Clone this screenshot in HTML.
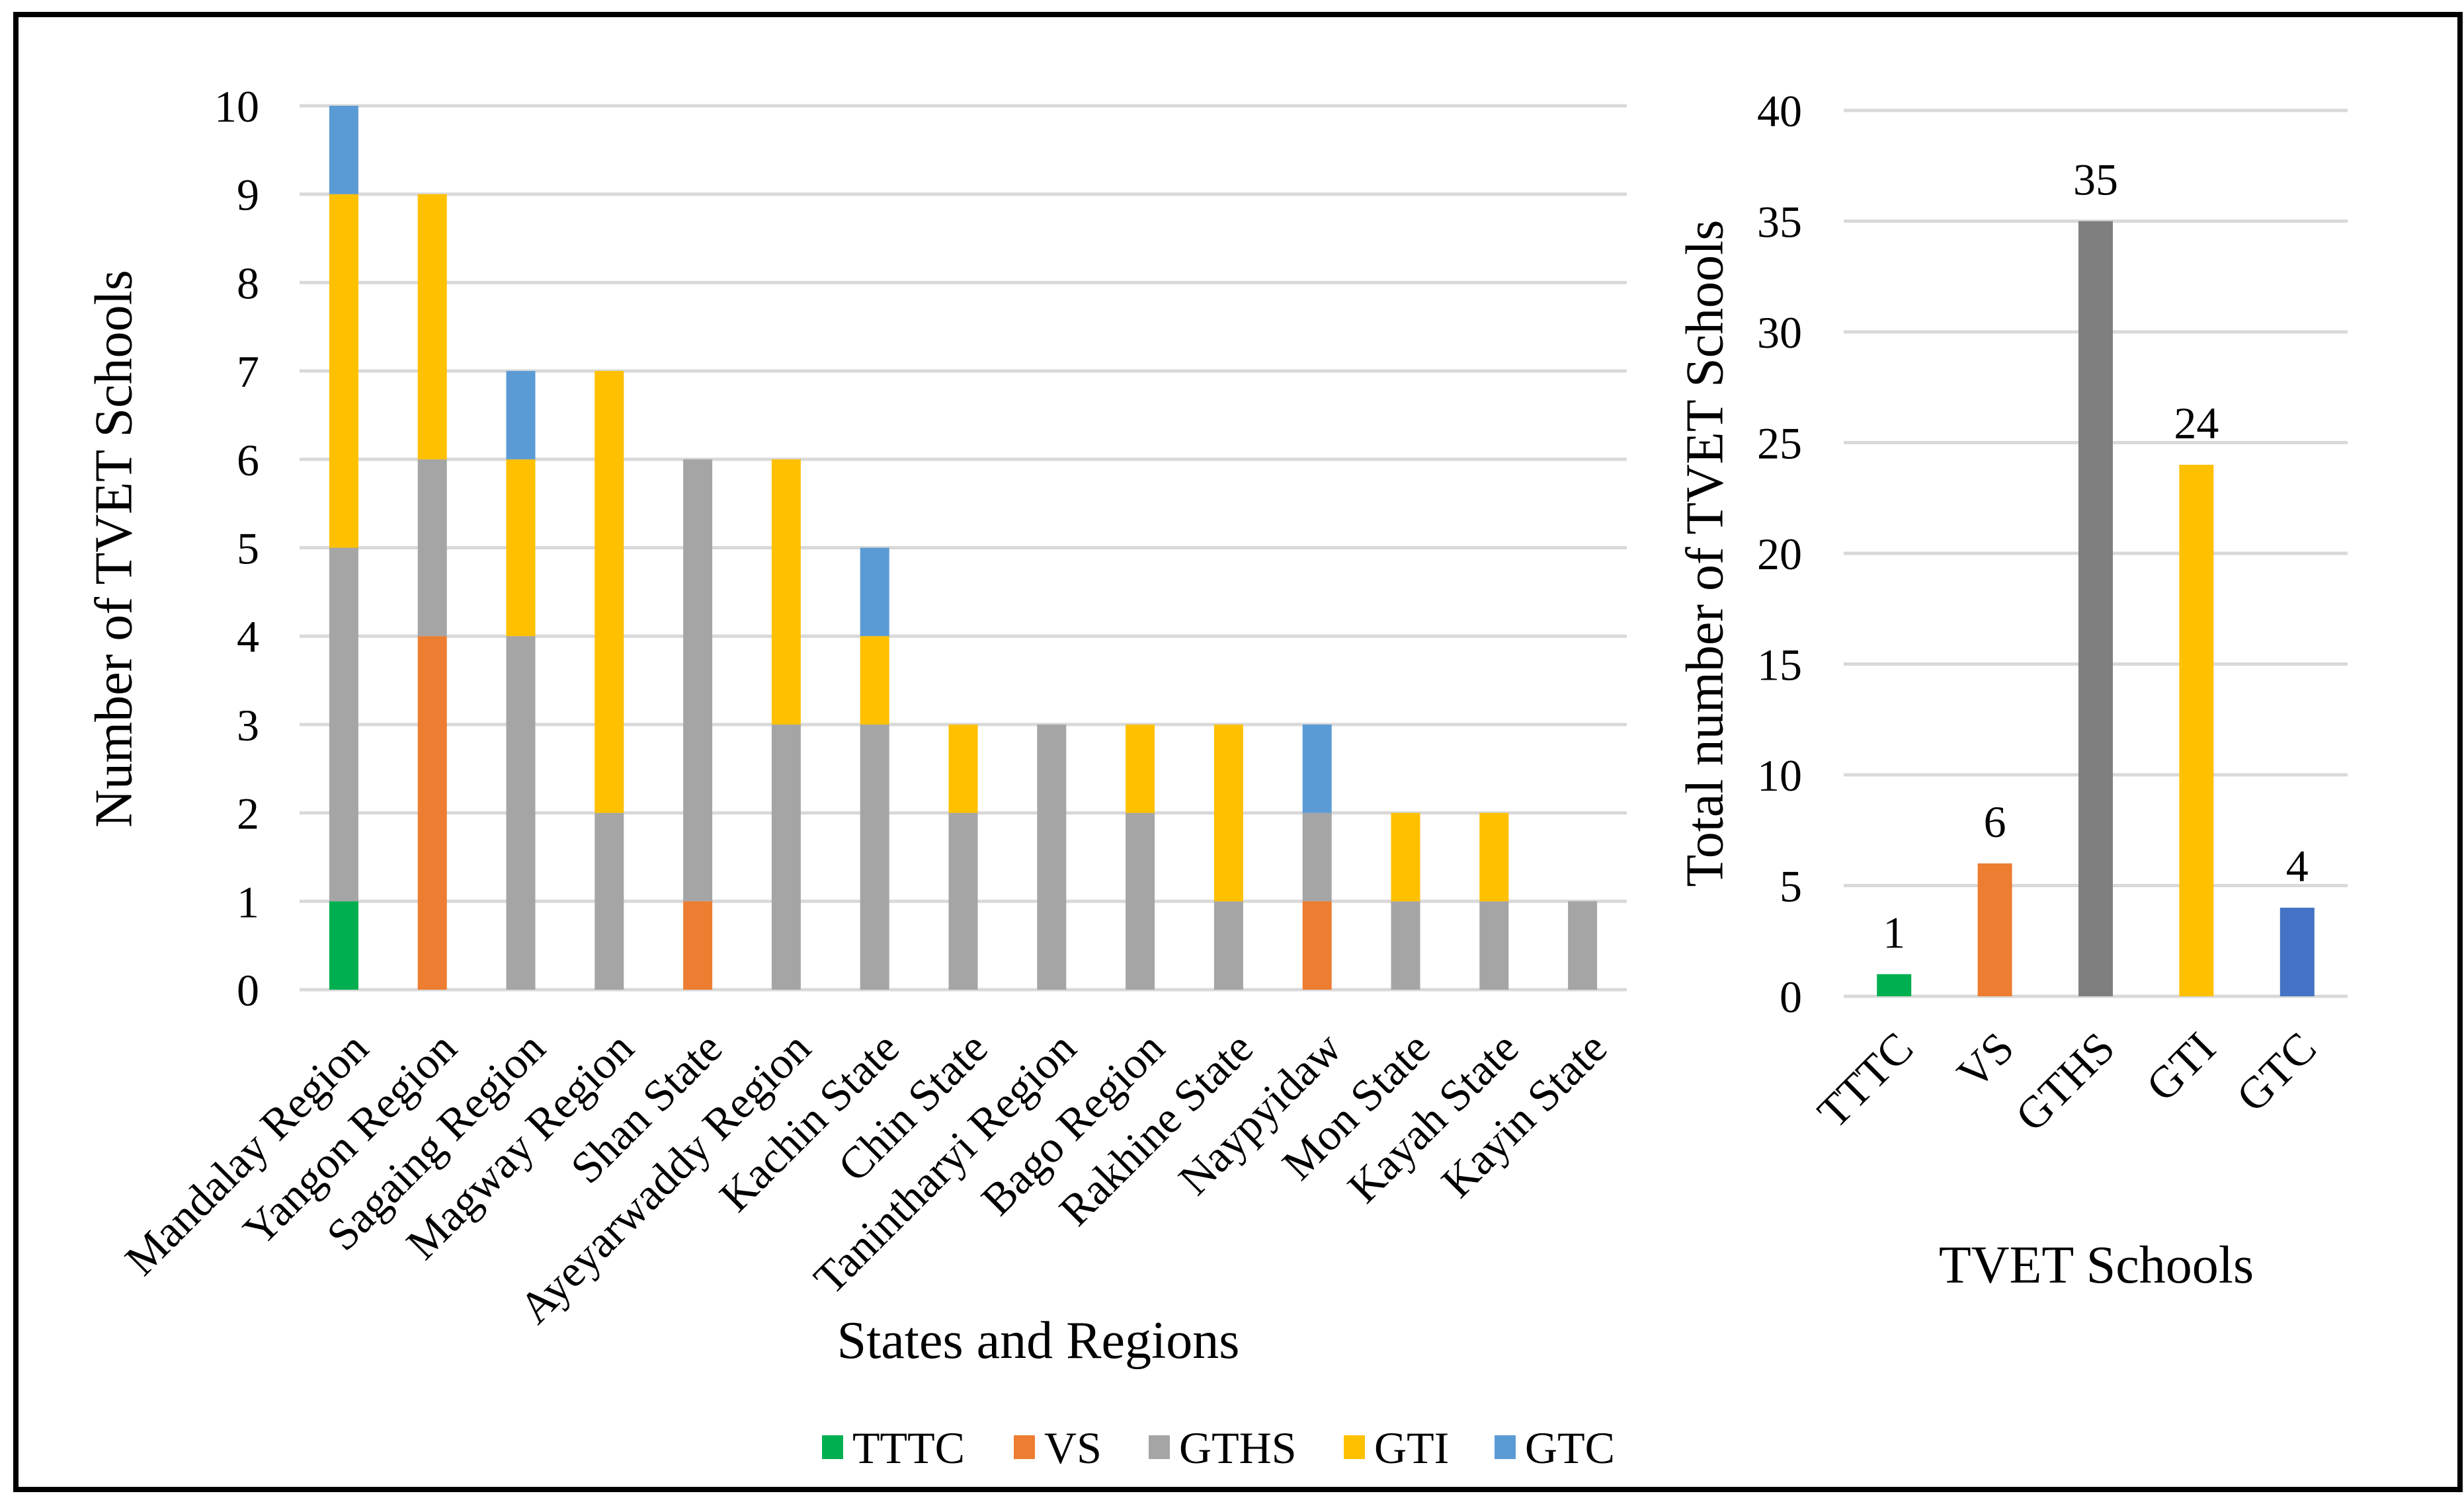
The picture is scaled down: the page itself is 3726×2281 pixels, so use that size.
<!DOCTYPE html>
<html><head><meta charset="utf-8"><style>
html,body{margin:0;padding:0;background:#fff;}
svg{display:block;font-family:"Liberation Serif",serif;}
</style></head><body>
<svg id="c" width="3726" height="2281" viewBox="0 0 3726 2281" xmlns="http://www.w3.org/2000/svg">
<rect x="24" y="22" width="3696" height="2231" fill="#fff" stroke="#000" stroke-width="8"/>
<g id="left"></g>
<g id="right"></g>
<text x="180" y="830" font-size="80" text-anchor="middle" transform="rotate(-90 180 830)" dominant-baseline="middle">Number of TVET Schools</text>
<text x="1570" y="2054" font-size="80" text-anchor="middle">States and Regions</text>
<text x="2586" y="837" font-size="80" text-anchor="middle" transform="rotate(-90 2586 837)" dominant-baseline="middle">Total number of TVET Schools</text>
<text x="3170" y="1940" font-size="80" text-anchor="middle">TVET Schools</text>
<g id="legend"></g>
</svg>
<script>
const regions = ["Mandalay Region","Yangon Region","Sagaing Region","Magway Region","Shan State","Ayeyarwaddy Region","Kachin State","Chin State","Tanintharyi Region","Bago Region","Rakhine State","Naypyidaw","Mon State","Kayah State","Kayin State"];
const seriesNames = ["TTTC","VS","GTHS","GTI","GTC"];
const tttc = [1,0,0,0,0,0,0,0,0,0,0,0,0,0,0];
const vs   = [0,4,0,0,1,0,0,0,0,0,0,1,0,0,0];
const gths = [4,2,4,2,5,3,3,2,3,2,1,1,1,1,1];
const gti  = [4,3,2,5,0,3,1,1,0,1,2,0,1,1,0];
const gtc  = [1,0,1,0,0,0,1,0,0,0,0,1,0,0,0];
const leftTicks = [0,1,2,3,4,5,6,7,8,9,10];
const totals = [1,6,35,24,4];
const rightTicks = [0,5,10,15,20,25,30,35,40];

const NS="http://www.w3.org/2000/svg";
function mk(tag, attrs, parent){const e=document.createElementNS(NS,tag);for(const k in attrs)e.setAttribute(k,attrs[k]);parent.appendChild(e);return e;}
const stackColors=["#00B050","#ED7D31","#A5A5A5","#FFC000","#5B9BD5"];
const totalColors=["#00B050","#ED7D31","#7F7F7F","#FFC000","#4472C4"];
const seriesData=[tttc,vs,gths,gti,gtc];

// left chart
const L={x0:453,x1:2460,y0:1497,y1:160,max:10};
const ly=v=>L.y0-(v/L.max)*(L.y0-L.y1);
const lbw=(L.x1-L.x0)/regions.length;
const lx=i=>L.x0+lbw*(i+0.5);
const lg=document.getElementById('left');
leftTicks.forEach(t=>{
  const g=mk('line',{x1:L.x0,x2:L.x1,y1:ly(t),y2:ly(t),stroke:"#D9D9D9","stroke-width":5},lg);
  
  
  const tx=mk('text',{x:392,y:ly(t)+24,"font-size":68,"text-anchor":"end"},lg);
  tx.textContent=t;
  
  
});
regions.forEach((r,i)=>{
  let acc=0;
  seriesData.forEach((s,k)=>{
    const v=s[i]; if(!v) return;
    const rc=mk('rect',{x:lx(i)-22,y:ly(acc+v),width:44,height:ly(acc)-ly(acc+v),fill:stackColors[k]},lg);
    
    
    acc+=v;
  });
  const px=lx(i)+6, py=1555;
  const tx=mk('text',{x:px,y:py,"font-size":68,"text-anchor":"end",transform:`rotate(-45 ${px} ${py})`,"dominant-baseline":"hanging"},lg);
  tx.textContent=r;
  
  
});

// right chart
const R={x0:2788,x1:3550,y0:1507,y1:167,max:40};
const ry=v=>R.y0-(v/R.max)*(R.y0-R.y1);
const rbw=(R.x1-R.x0)/totals.length;
const rx=i=>R.x0+rbw*(i+0.5);
const rg=document.getElementById('right');
rightTicks.forEach(t=>{
  const g=mk('line',{x1:R.x0,x2:R.x1,y1:ry(t),y2:ry(t),stroke:"#D9D9D9","stroke-width":5},rg);
  
  
  const tx=mk('text',{x:2725,y:ry(t)+24,"font-size":68,"text-anchor":"end"},rg);
  tx.textContent=t;
  
  
});
totals.forEach((v,i)=>{
  const rc=mk('rect',{x:rx(i)-26,y:ry(v),width:52,height:ry(0)-ry(v),fill:totalColors[i]},rg);
  
  
  const vl=mk('text',{x:rx(i),y:ry(v)-40,"font-size":68,"text-anchor":"middle"},rg);
  vl.textContent=v;
  
  
  const px=rx(i)-2, py=1555;
  const tx=mk('text',{x:px,y:py,"font-size":68,"text-anchor":"end",transform:`rotate(-45 ${px} ${py})`,"dominant-baseline":"hanging"},rg);
  tx.textContent=seriesNames[i];
  
  
});

// legend
const lgd=document.getElementById('legend');
const legX=[1243,1533,1737,2032,2260];
seriesNames.forEach((n,k)=>{
  const sq=mk('rect',{x:legX[k],y:2171,width:32,height:36,fill:stackColors[k]},lgd);
  
  
  const t=mk('text',{x:legX[k]+46,y:2213,"font-size":68},lgd);
  t.textContent=n;
  
  
});
</script>
</body></html>
